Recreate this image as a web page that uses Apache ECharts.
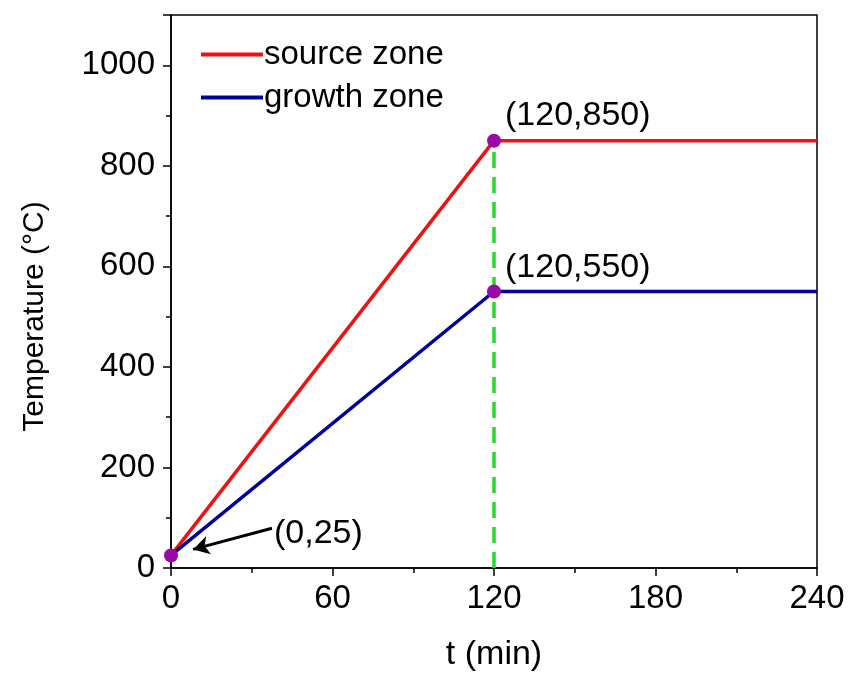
<!DOCTYPE html>
<html>
<head>
<meta charset="utf-8">
<script src="https://cdn.jsdelivr.net/npm/echarts@6/dist/echarts.min.js"></script>
<style>
  html, body { margin: 0; padding: 0; background: #fff; }
  #container { width: 851px; height: 677px; }
</style>
</head>
<body>
<div id="container"></div>
<script>
var dom = document.getElementById('container');
var myChart = echarts.init(dom, null, { renderer: 'canvas' });

// temperature profile (t in min, T in °C)
let sourceT = [0, 120, 240];
let sourceTemp = [25, 850, 850];
let growthT = [0, 120, 240];
let growthTemp = [25, 550, 550];

// marked points and their labels
let keyT = [0, 120, 120];
let keyTemp = [25, 850, 550];
let keyLabels = ['(0,25)', '(120,850)', '(120,550)'];

// dashed guide at t = 120
let guideT = [120, 120];
let guideTemp = [0, 850];

// arrow pointing to (0,25)
let arrowFrom = [37.5, 79];
let arrowTo = [8.2, 37];

const font = 'Liberation Sans, Arial, sans-serif';

function pairs(xs, ys) {
    return xs.map((x, i) => [x, ys[i]]);
}

// label placement for each key point
let labelPos = [
    { position: 'right', distance: 96, offset: [0, -22] },
    { position: 'right', distance: 4, offset: [0, -25] },
    { position: 'right', distance: 4, offset: [0, -24] }
];

var option = {
    backgroundColor: '#fff',
    animation: false,
    grid: {
        left: 171, right: 34, top: 15, bottom: 107,
        show: true, borderColor: '#000', borderWidth: 1.5
    },
    legend: {
        orient: 'vertical',
        left: 196, top: 31,
        icon: 'rect',
        itemWidth: 62, itemHeight: 4, itemGap: 6,
        textStyle: { fontFamily: font, fontSize: 33, color: '#000', lineHeight: 37, padding: [0, 0, 0, -4] },
        data: ['source zone', 'growth zone']
    },
    xAxis: {
        type: 'value',
        min: 0, max: 240, interval: 60,
        name: 't (min)',
        nameLocation: 'middle',
        nameGap: 70,
        nameTextStyle: { fontFamily: font, fontSize: 34, color: '#000' },
        axisLine: { onZero: false, lineStyle: { color: '#000', width: 1.5 } },
        axisTick: { inside: false, length: 8, lineStyle: { color: '#000', width: 1.5 } },
        minorTick: { show: true, splitNumber: 2, length: 5, lineStyle: { color: '#000', width: 1.5 } },
        axisLabel: { fontFamily: font, fontSize: 33, color: '#000', margin: 14 },
        splitLine: { show: false }
    },
    yAxis: {
        type: 'value',
        min: 0, max: 1100, interval: 200,
        name: 'Temperature (°C)',
        nameLocation: 'middle',
        nameGap: 121,
        nameTextStyle: { fontFamily: font, fontSize: 30, color: '#000', padding: [0, 50, 0, 0] },
        axisLine: { onZero: false, lineStyle: { color: '#000', width: 1.5 } },
        axisTick: { inside: false, length: 8, lineStyle: { color: '#000', width: 1.5 } },
        minorTick: { show: true, splitNumber: 2, length: 5, lineStyle: { color: '#000', width: 1.5 } },
        axisLabel: {
            fontFamily: font, fontSize: 33, color: '#000', margin: 16, showMaxLabel: false,
            formatter: v => String(v)
        },
        splitLine: { show: false }
    },
    series: [
        {
            name: 'source zone',
            type: 'line',
            symbol: 'none',
            data: pairs(sourceT, sourceTemp),
            lineStyle: { color: '#ee1111', width: 3.5 },
            itemStyle: { color: '#ee1111' },
            z: 3
        },
        {
            name: 'growth zone',
            type: 'line',
            symbol: 'none',
            data: pairs(growthT, growthTemp),
            lineStyle: { color: '#000099', width: 3.5 },
            itemStyle: { color: '#000099' },
            z: 3
        },
        {
            name: 'guide',
            type: 'line',
            symbol: 'none',
            data: pairs(guideT, guideTemp),
            lineStyle: { color: '#22dd22', width: 3.5, type: [16, 9] },
            z: 2
        },
        {
            name: 'arrow',
            type: 'line',
            symbol: 'none',
            data: [],
            markLine: {
                silent: true,
                symbol: ['none', 'arrow'],
                symbolSize: [14, 16],
                label: { show: false },
                lineStyle: { color: '#000', width: 3, type: 'solid' },
                data: [[{ coord: arrowFrom }, { coord: arrowTo }]]
            }
        },
        {
            name: 'points',
            type: 'scatter',
            symbolSize: 14,
            itemStyle: { color: '#9a0aa8', opacity: 1 },
            z: 5,
            data: keyT.map((t, i) => ({
                value: [t, keyTemp[i]],
                label: Object.assign({
                    show: true,
                    formatter: keyLabels[i],
                    fontFamily: font,
                    fontSize: 34,
                    color: '#000',
                    opacity: 1
                }, labelPos[i])
            }))
        }
    ]
};

myChart.setOption(option);
window.addEventListener('resize', myChart.resize);
</script>
</body>
</html>
